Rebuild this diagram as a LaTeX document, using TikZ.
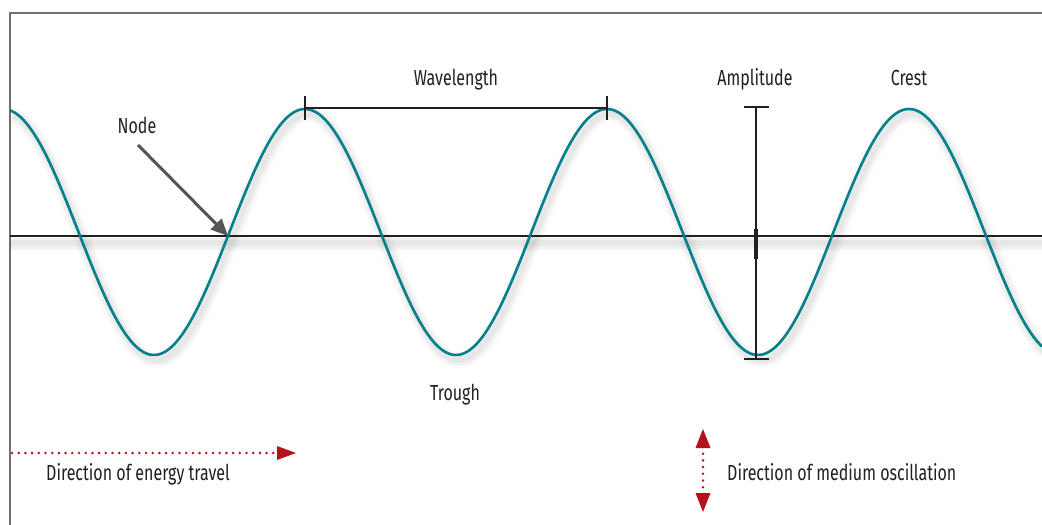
\documentclass[tikz,border=0pt]{standalone}
\usepackage{fontspec}
\setmainfont{Fira Sans}[FakeStretch=0.735]
\usetikzlibrary{arrows.meta}
\definecolor{teal}{HTML}{00808A}
\definecolor{wred}{HTML}{B5121B}
\definecolor{ink}{HTML}{231F20}
\definecolor{framegray}{HTML}{707070}
\definecolor{arrowgray}{HTML}{555555}
\tikzset{
  lbl/.style={font=\fontsize{21.8}{24}\selectfont, text=ink, inner sep=0pt, anchor=base},
  bar/.style={draw=ink, line width=2pt},
  wave/.style={draw=teal, line width=2.6pt},
  reddots/.style={draw=wred, line width=2.8pt, line cap=round, dash pattern=on 0pt off 6.7pt},
  redtip/.style={wred, fill=wred},
}
\begin{document}
\begin{tikzpicture}[x=1pt,y=-1pt]
\useasboundingbox (0,0) rectangle (1042,525);
\fill[white] (0,0) rectangle (1042,525);
% frame
\draw[framegray, line width=1.6pt] (10,525) -- (10,13) -- (1042,13);
% shadows
\begin{scope}
\clip (10,13) rectangle (1042,525);
\foreach \w/\o in {16/0.025,11/0.03,6/0.04}{
  \draw[black, opacity=\o, line width=\w pt] plot[domain=10:1042, samples=240, smooth] (\x+3, {237-123*cos(1.19205*(\x-305))});
  \draw[black, opacity=\o, line width=\w pt] (10,243) -- (1042,243);
}
\end{scope}
% axis
\coordinate (axl) at (10,236);
\coordinate (axr) at (1042,236);
\draw[ink, line width=2pt] (axl) -- (axr);
% wave
\draw[wave] plot[domain=10:1042, samples=240, smooth] (\x, {232-123*cos(1.19205*(\x-305))});
% wavelength
\coordinate (wl) at (305,108);
\coordinate (wr) at (607,108);
\draw[bar] (wl) -- (wr);
\draw[bar] ([yshift=-12]wl) -- ([yshift=12]wl);
\draw[bar] ([yshift=-12]wr) -- ([yshift=12]wr);
\node[lbl] (wavelength) at (456,85) {Wavelength};
% amplitude
\coordinate (at) at (756,107);
\coordinate (ab) at (756,359);
\draw[bar] (at) -- (ab);
\draw[bar] ([xshift=-12.5]at) -- ([xshift=12.5]at);
\draw[bar] ([xshift=-12.5]ab) -- ([xshift=12.5]ab);
\coordinate (am1) at (756,229);
\coordinate (am2) at (756,259);
\draw[ink, line width=3.2pt] (am1) -- (am2);
\node[lbl] (amplitude) at (755,85) {Amplitude};
% crest, trough
\node[lbl] (crest) at (909,85) {Crest};
\node[lbl] (trough) at (455,400) {Trough};
% node label
\node[lbl] (nodelbl) at (137,133) {Node};
\coordinate (nstart) at (138,145);
\coordinate (nend) at (228,236);
\draw[arrowgray, line width=3pt, -{Triangle[length=17pt,width=15pt]}] (nstart) -- (nend);
% energy travel
\coordinate (e1) at (12,453);
\coordinate (e2) at (279,453);
\coordinate (e3) at (296,453);
\draw[reddots] (e1) -- (e2);
\fill[redtip] (e3) -- (277,446) -- (277,460) -- cycle;
\node[lbl, anchor=base west] (energy) at (46,480) {Direction of energy travel};
% medium oscillation
\coordinate (o1) at (703,447);
\coordinate (o2) at (703,494);
\draw[reddots] (o1) -- (o2);
\fill[redtip] (703,429) -- (695.5,448) -- (710.5,448) -- cycle;
\fill[redtip] (703,512) -- (695.5,493) -- (710.5,493) -- cycle;
\node[lbl, anchor=base west] (medium) at (727,480) {Direction of medium oscillation};
\end{tikzpicture}
\end{document}
